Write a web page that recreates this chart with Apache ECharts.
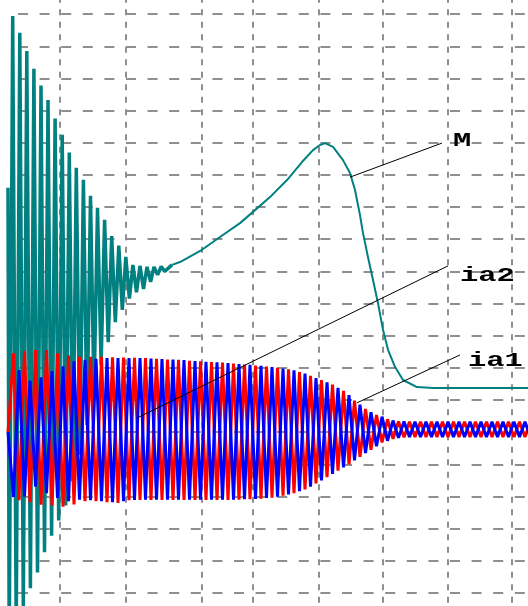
<!DOCTYPE html>
<html>
<head>
<meta charset="utf-8">
<script src="https://cdn.jsdelivr.net/npm/echarts@6/dist/echarts.min.js"></script>
<style>
html,body{margin:0;padding:0;background:#fff;overflow:hidden;width:528px;height:606px;}
#c{position:absolute;left:0;top:-18px;width:528px;height:643px;}
</style>
</head>
<body>
<div id="c"></div>
<script>
// vertical grid positions (time units)
const xTicks = [52, 118, 193.5, 245, 310.5, 375, 440, 504];

// Torque M, oscillating start: time and value (grid units)
const mOscTime = [0, 1.2, 4.7, 8.2, 11.8, 15.3, 18.8, 22.4, 25.9, 29.5, 33, 36.5, 40, 43.6, 47.1, 50.7, 54.2, 57.7, 61.3, 64.8, 68.3, 71.9, 75.4, 79, 82.5, 86, 89.5, 93.1, 96.6, 100.2, 103.7, 107.3, 110.8, 114.3, 117.8, 121.4, 124.9, 128.5, 132, 135.5, 139, 142.6, 146, 149.6, 153.2, 156.7, 164];
const mOscValue = [7.6, -6.76, 12.94, -6.15, 12.42, -5.44, 11.85, -4.86, 11.30, -4.37, 10.78, -3.74, 10.33, -3.22, 9.75, -2.75, 9.25, -2.28, 8.70, -1.53, 8.22, -0.70, 7.85, 0.22, 7.35, 1.15, 6.98, 2.09, 6.60, 2.80, 6.10, 3.42, 5.80, 3.80, 5.45, 4.15, 5.20, 4.35, 5.17, 4.45, 5.14, 4.67, 5.14, 4.89, 5.15, 5.00, 5.20];
// Torque M, smooth part
const mTime = [164, 172, 194, 212, 232, 245, 262, 279, 294, 305, 312, 317, 325, 335, 342, 347, 352, 355, 360, 365, 370, 375, 380, 387, 395, 409, 425, 522];
const mValue = [5.20, 5.29, 5.67, 6.07, 6.50, 6.85, 7.31, 7.84, 8.40, 8.77, 8.93, 8.99, 8.87, 8.46, 8.06, 7.53, 6.75, 6.19, 5.44, 4.73, 4.01, 3.18, 2.56, 2.03, 1.62, 1.40, 1.37, 1.37];

// Currents: sampled at half-period steps
const iaStart = 0, iaStep = 5.5;
const ia1 = [0, 2.45, -2.12, 2.52, -2.18, 2.55, -2.26, 2.55, -2.28, 2.45, -2.32, 2.38, -2.25, 2.34, -2.15, 2.34, -2.15, 2.34, -2.18, 2.33,
  -2.20, 2.32, -2.12, 2.31, -2.11, 2.30, -2.11, 2.28, -2.11, 2.26, -2.11, 2.25, -2.11, 2.22, -2.11, 2.20, -2.11, 2.18, -2.11, 2.16,
  -2.11, 2.13, -2.10, 2.10, -2.09, 2.07, -2.07, 2.04, -2.04, 2.00, -1.98, 1.95, -1.90, 1.87, -1.78, 1.75, -1.60, 1.62, -1.40, 1.48,
  -1.20, 1.28, -1.00, 0.98, -0.77, 0.72, -0.55, 0.53, -0.32, 0.40, -0.21, 0.33, -0.16, 0.32, -0.15, 0.32, -0.15, 0.32, -0.15, 0.32,
  -0.15, 0.32, -0.15, 0.32, -0.15, 0.32, -0.15, 0.32, -0.15, 0.32, -0.15, 0.32, -0.15, 0.32, -0.15, 0.32];
const ia2 = [0, -2.02, 1.93, -2.00, 1.60, -1.70, 1.70, -1.90, 1.90, -2.05, 2.05, -2.15, 2.20, -2.10, 2.25, -2.12, 2.28, -2.15, 2.30, -2.18,
  2.30, -2.15, 2.30, -2.11, 2.30, -2.10, 2.29, -2.10, 2.27, -2.10, 2.26, -2.10, 2.24, -2.10, 2.21, -2.10, 2.19, -2.10, 2.17, -2.10,
  2.15, -2.10, 2.12, -2.09, 2.09, -2.08, 2.06, -2.05, 2.02, -2.01, 1.98, -1.94, 1.92, -1.84, 1.82, -1.70, 1.68, -1.50, 1.55, -1.30,
  1.38, -1.10, 1.15, -0.88, 0.85, -0.65, 0.62, -0.44, 0.48, -0.27, 0.36, -0.18, 0.33, -0.15, 0.32, -0.15, 0.32, -0.15, 0.32, -0.15,
  0.32, -0.15, 0.32, -0.15, 0.32, -0.15, 0.32, -0.15, 0.32, -0.15, 0.32, -0.15, 0.32, -0.15, 0.32, -0.15];

// annotation leader lines and labels (data coordinates)
const annLabels = ['M', 'ia2', 'ia1'];
const annFrom = [[342, 7.93], [129, 0.44], [349, 0.91]];
const annTo = [[434, 8.99], [440, 5.17], [452, 2.40]];
const annText = [[445, 9.05], [452, 4.86], [460, 2.22]];

const mOscData = mOscTime.map((t, i) => [t, mOscValue[i]]);
const mData = mTime.map((t, i) => [t, mValue[i]]);
const ia1Data = ia1.map((v, i) => [iaStart + i * iaStep, v]);
const ia2Data = ia2.map((v, i) => [iaStart + i * iaStep, v]);

const chart = echarts.init(document.getElementById('c'), null, {renderer: 'canvas'});
const lineCommon = {type: 'line', showSymbol: false, symbol: 'none', animation: false, silent: true, clip: false};
chart.setOption({
  backgroundColor: '#ffffff',
  animation: false,
  grid: {left: 8, right: 0, top: 0, bottom: 0, containLabel: false},
  xAxis: {
    type: 'value', min: 0, max: 520,
    axisLine: {show: false}, axisLabel: {show: false},
    axisTick: {show: false, customValues: xTicks},
    splitLine: {show: true, lineStyle: {color: '#8f8f8f', width: 2, type: [6, 6.5], dashOffset: 10.2}}
  },
  yAxis: {
    type: 'value', min: -6, max: 14, interval: 1,
    axisLine: {show: false}, axisLabel: {show: false}, axisTick: {show: false},
    splitLine: {show: true, lineStyle: {color: '#8f8f8f', width: 2, type: [10, 11.6], dashOffset: 11.6}}
  },
  series: [
    Object.assign({}, lineCommon, {name: 'M', data: mOscData, lineStyle: {color: '#008080', width: 3.5}, z: 2}),
    Object.assign({}, lineCommon, {name: 'M', data: mData, lineStyle: {color: '#008080', width: 2}, z: 2}),
    Object.assign({}, lineCommon, {name: 'ia1', data: ia1Data, lineStyle: {color: '#ff0000', width: 3}, z: 3}),
    Object.assign({}, lineCommon, {name: 'ia2', data: ia2Data, lineStyle: {color: '#0000ff', width: 3}, z: 4,
      markLine: {
        silent: true, animation: false, symbol: ['none', 'none'],
        label: {show: false},
        lineStyle: {color: '#000000', width: 1, type: 'solid'},
        data: annFrom.map((f, i) => [{coord: f}, {coord: annTo[i]}])
      }
    })
  ]
});

const graphics = annLabels.map((lab, i) => {
  const p = chart.convertToPixel({gridIndex: 0}, annText[i]);
  return {
    type: 'text', x: p[0], y: p[1], scaleX: 1.45, z: 100,
    style: {
      text: lab, fill: '#000000',
      font: 'bold 21px "Liberation Mono"',
      align: 'left', verticalAlign: 'middle'
    }
  };
});
chart.setOption({graphic: graphics});
</script>
</body>
</html>
